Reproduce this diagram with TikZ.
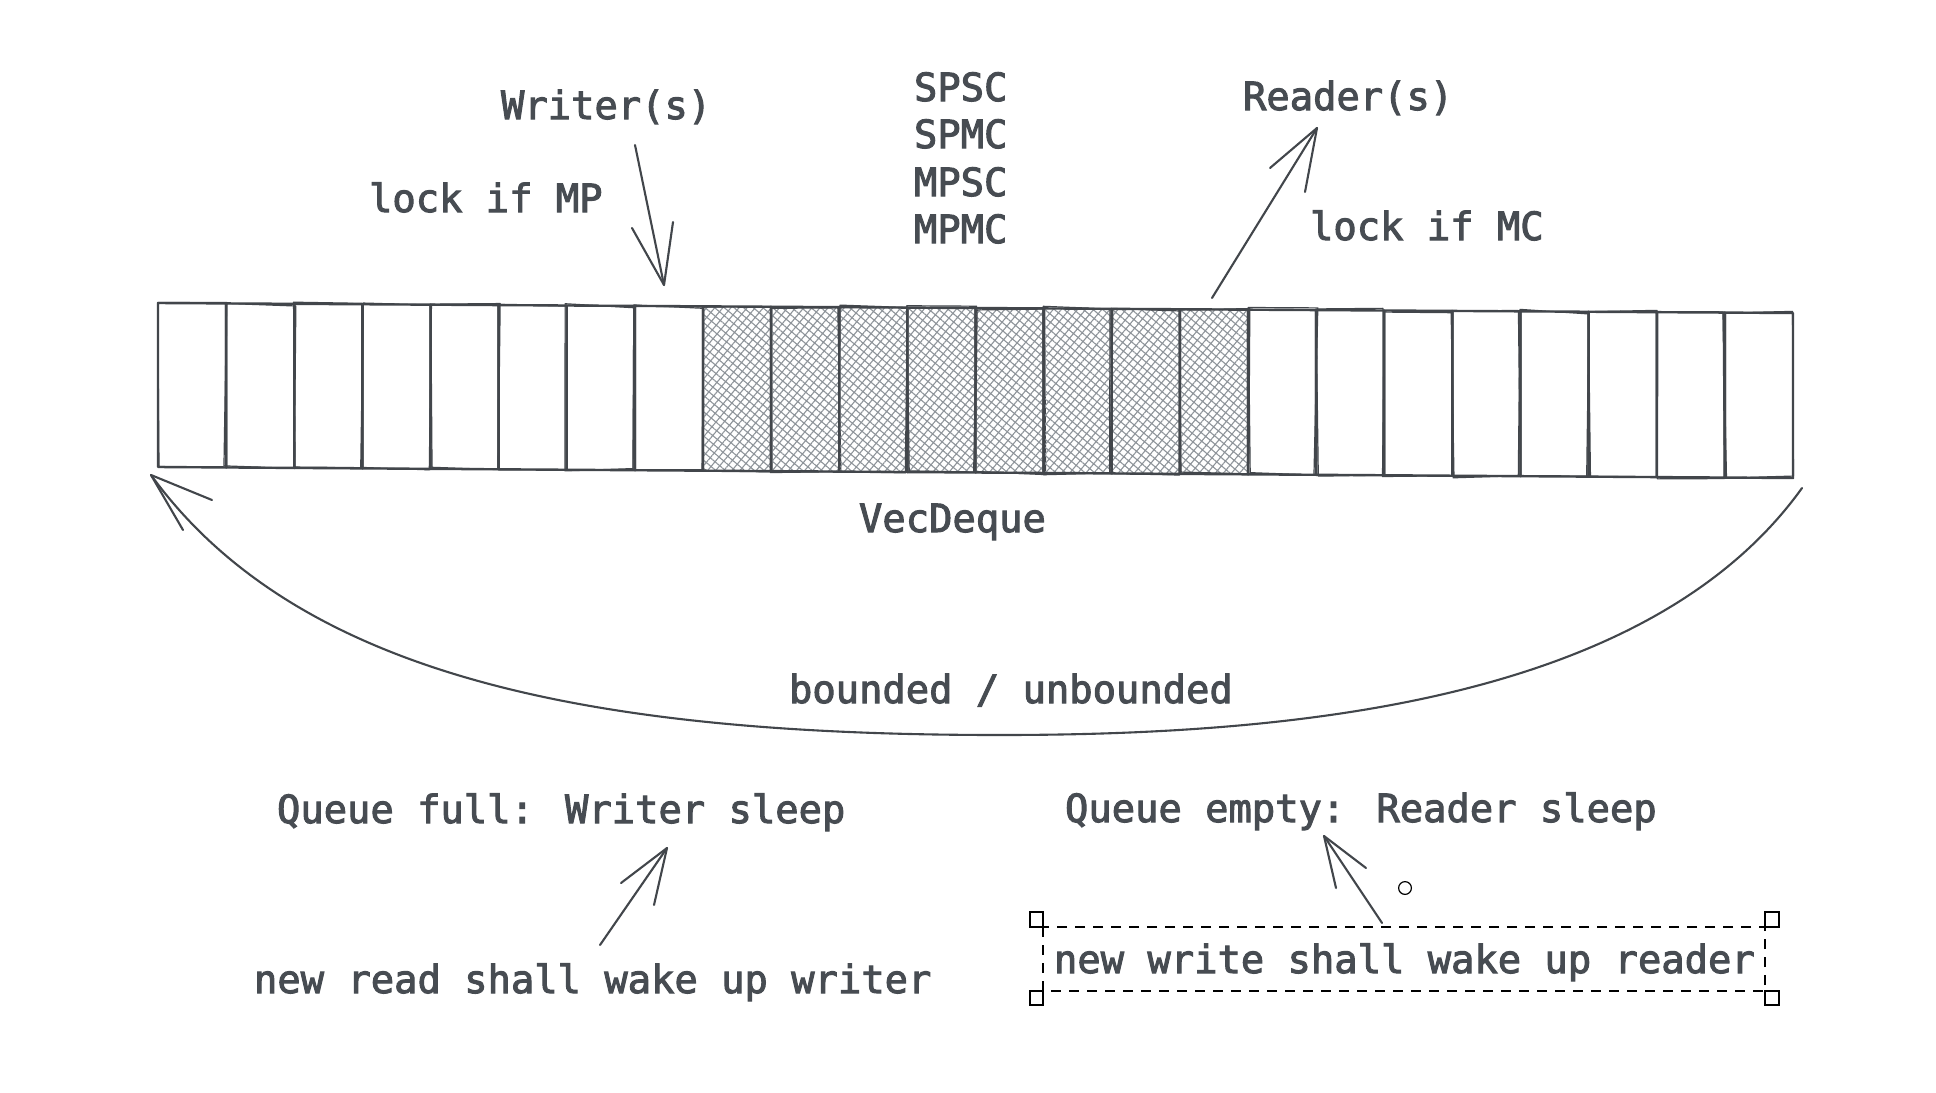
\documentclass[tikz,border=0pt]{standalone}
\usepackage{fontspec}
\newfontfamily\codefont[FakeBold=2.6]{DejaVu Sans Mono}
\usetikzlibrary{patterns.meta}
\definecolor{ink}{HTML}{42464B}
\definecolor{txt}{HTML}{474C52}
\definecolor{hatchc}{HTML}{8E949A}
\begin{document}
\begin{tikzpicture}[x=0.5pt,y=-0.5pt,
  every node/.style={inner sep=0pt,outer sep=0pt},
  lbl/.style={font=\codefont\fontsize{19.4pt}{23pt}\selectfont, text=txt, anchor=base west},
  cellline/.style={draw=ink, line width=1.2pt, line join=round},
  roughline/.style={draw=ink, line width=0.6pt, line join=round, line cap=round},
  sketch/.style={draw=ink, line width=1.05pt, line cap=round, line join=round},
  hatchfill/.style={pattern={Hatch[angle=50,distance=3.1pt,line width=0.55pt]}, pattern color=hatchc},
  sel/.style={draw=black, line width=0.7pt, dash pattern=on 5pt off 4pt},
  handle/.style={draw=black, line width=0.6pt, fill=white}]
\useasboundingbox[fill=white] (0,0) rectangle (1936,1092);

% queue cells
\pgfmathsetseed{7}
\foreach \i in {0,...,23}{
  \pgfmathsetmacro{\xa}{158+68.125*\i}
  \pgfmathsetmacro{\xb}{\xa+68.125}
  \pgfmathsetmacro{\ta}{303+(\xa-158)/163.5}
  \pgfmathsetmacro{\tb}{303+(\xb-158)/163.5}
  \pgfmathsetmacro{\ba}{467+(\xa-158)/148.6}
  \pgfmathsetmacro{\bb}{467+(\xb-158)/148.6}
  \ifnum\i>7 \ifnum\i<16
    \fill[hatchfill] (\xa,\ta) -- (\xb,\tb) -- (\xb,\bb) -- (\xa,\ba) -- cycle;
  \fi\fi
  \draw[cellline] (\xa,\ta) -- (\xb,\tb) -- (\xb,\bb) -- (\xa,\ba) -- cycle;
  \pgfmathsetmacro{\ja}{2.2*rand}
  \pgfmathsetmacro{\jb}{2.2*rand}
  \pgfmathsetmacro{\jc}{2.2*rand}
  \pgfmathsetmacro{\jd}{2.2*rand}
  \draw[roughline] (\xa+\ja,\ta-\jb) -- (\xb+\jc,\tb+\jd) -- (\xb-\jb,\bb+\ja) -- (\xa-\jd,\ba-\jc) -- cycle;
  \coordinate (c\i) at (\xa,\ta);
}

% texts
\node[lbl] (writer) at (501,119) {Writer(s)};
\node[lbl] (lockmp) at (369,212) {lock if MP};
\node[lbl] (spsc) at (914,101) {SPSC};
\node[lbl] (spmc) at (914,148) {SPMC};
\node[lbl] (mpsc) at (914,196) {MPSC};
\node[lbl] (mpmc) at (914,243) {MPMC};
\node[lbl] (reader) at (1243,110) {Reader(s)};
\node[lbl] (lockmc) at (1310,240) {lock if MC};
\node[lbl] (vecdeque) at (859,532) {VecDeque};
\node[lbl] (bounded) at (789,703) {bounded / unbounded};
\node[lbl] (qfull) at (277,823) {Queue full: Writer sleep};
\node[lbl] (newread) at (254,993) {new read shall wake up writer};
\node[lbl] (qempty) at (1065,822) {Queue empty: Reader sleep};
\node[lbl] (newwrite) at (1054,973) {new write shall wake up reader};

% writer arrow
\coordinate (wtail) at (635,145);
\coordinate (wtip) at (664,285);
\coordinate (wb1) at (632,228);
\coordinate (wb2) at (673,222);
\draw[sketch] (wtail) -- (wtip);
\draw[sketch] (wb1) -- (wtip) -- (wb2);

% reader arrow
\coordinate (rtail) at (1212,298);
\coordinate (rtip) at (1317,128);
\coordinate (rb1) at (1270,168);
\coordinate (rb2) at (1305,192);
\draw[sketch] (rtail) -- (rtip);
\draw[sketch] (rb1) -- (rtip) -- (rb2);

% bounded / unbounded loop arrow
\coordinate (lstart) at (1802,488);
\coordinate (lmid) at (1000,735);
\coordinate (ltip) at (151,475);
\coordinate (lb1) at (212,500);
\coordinate (lb2) at (183,530);
\draw[sketch] (lstart) .. controls (1650,700) and (1300,735) .. (lmid)
  .. controls (600,735) and (300,680) .. (ltip);
\draw[sketch] (lb1) -- (ltip) -- (lb2);

% queue full arrow
\coordinate (ftail) at (600,945);
\coordinate (ftip) at (667,848);
\coordinate (fb1) at (621,883);
\coordinate (fb2) at (654,905);
\draw[sketch] (ftail) -- (ftip);
\draw[sketch] (fb1) -- (ftip) -- (fb2);

% queue empty arrow
\coordinate (etail) at (1382,923);
\coordinate (etip) at (1324,836);
\coordinate (eb1) at (1336,888);
\coordinate (eb2) at (1366,868);
\draw[sketch] (etail) -- (etip);
\draw[sketch] (eb1) -- (etip) -- (eb2);

% selection box
\draw[sel] (1043,927) rectangle (1765,991);
\draw[handle] (1030,912) rectangle (1043,927);
\draw[handle] (1765,912) rectangle (1779,927);
\draw[handle] (1030,991) rectangle (1043,1005);
\draw[handle] (1765,991) rectangle (1779,1005);
\draw[black, line width=0.6pt] (1405,888) circle[radius=3.2pt];
\end{tikzpicture}
\end{document}
